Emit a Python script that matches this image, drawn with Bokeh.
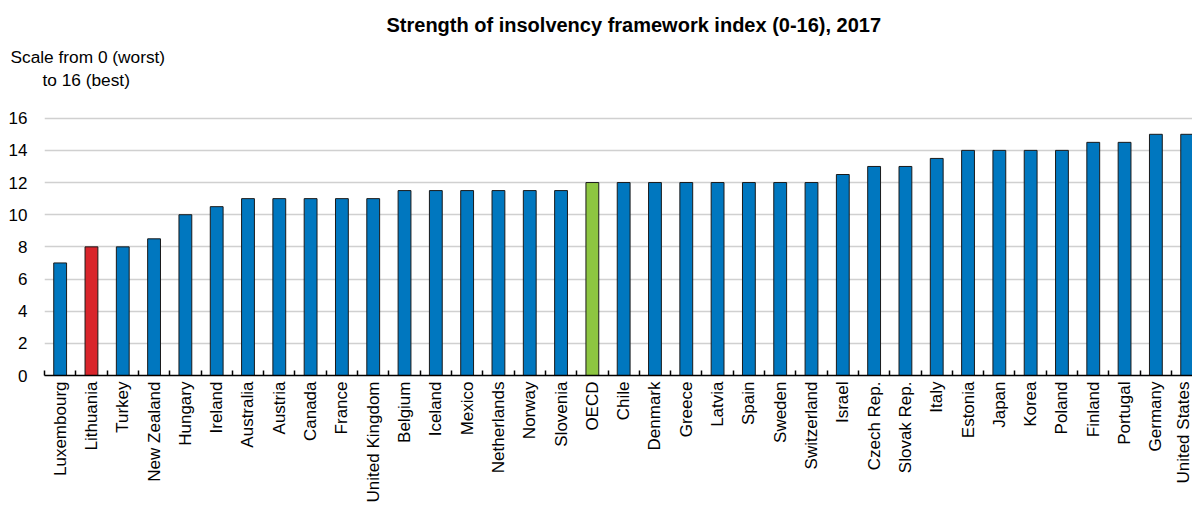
import math
from bokeh.plotting import figure
from bokeh.models import Range1d, FixedTicker, Title, LinearAxis
from bokeh.embed import file_html
from bokeh.resources import INLINE

countries = ["Luxembourg", "Lithuania", "Turkey", "New Zealand", "Hungary", "Ireland",
             "Australia", "Austria", "Canada", "France", "United Kingdom", "Belgium",
             "Iceland", "Mexico", "Netherlands", "Norway", "Slovenia", "OECD", "Chile",
             "Denmark", "Greece", "Latvia", "Spain", "Sweden", "Switzerland", "Israel",
             "Czech Rep.", "Slovak Rep.", "Italy", "Estonia", "Japan", "Korea", "Poland",
             "Finland", "Portugal", "Germany", "United States"]
values = [7, 8, 8, 8.5, 10, 10.5, 11, 11, 11, 11, 11, 11.5, 11.5, 11.5, 11.5, 11.5, 11.5,
          12, 12, 12, 12, 12, 12, 12, 12, 12.5, 13, 13, 13.5, 14, 14, 14, 14, 14.5, 14.5,
          15, 15]
y_ticks = [0, 2, 4, 6, 8, 10, 12, 14, 16]

BLUE = "#0077BF"
RED = "#D9252B"
GREEN = "#8DC641"
colors = [RED if c == "Lithuania" else GREEN if c == "OECD" else BLUE for c in countries]

FONT = "Liberation Sans"

n = len(countries)
idx = list(range(n))
bounds = [i - 0.5 for i in range(n + 1)]

p = figure(width=1192, height=505, output_backend="svg", toolbar_location=None,
           x_range=Range1d(-0.5, 36.17), y_range=Range1d(0, 17.6),
           min_border_left=44, min_border_right=0, min_border_top=92,
           min_border_bottom=129)
p.outline_line_color = None
p.background_fill_color = "white"
p.border_fill_color = "white"

p.vbar(x=idx, top=values, width=0.41, fill_color=colors,
       line_color="#1a1a1a", line_width=1)

# grid
p.xgrid.grid_line_color = None
p.ygrid.ticker = FixedTicker(ticks=y_ticks)
p.ygrid.grid_line_color = "#D0D0D0"
p.ygrid.grid_line_width = 1.6

# y axis
p.yaxis.ticker = FixedTicker(ticks=y_ticks)
p.yaxis.axis_line_color = None
p.yaxis.major_tick_line_color = None
p.yaxis.minor_tick_line_color = None
p.yaxis.major_tick_in = 0
p.yaxis.major_tick_out = 0
p.yaxis.minor_tick_out = 0
p.yaxis.major_label_standoff = 17
p.yaxis.major_label_text_font = FONT
p.yaxis.major_label_text_font_size = "17px"
p.yaxis.major_label_text_color = "black"

# x axis 1: axis line with inward ticks at category boundaries, labels not drawn
xa = p.xaxis[0]
xa.ticker = FixedTicker(ticks=bounds)
xa.axis_line_color = "black"
xa.axis_line_width = 1.5
xa.major_tick_in = 5
xa.major_tick_out = 0
xa.major_tick_line_color = "black"
xa.major_tick_line_width = 1.5
xa.minor_tick_line_color = None
xa.minor_tick_in = 0
xa.minor_tick_out = 0
xa.major_label_standoff = 0
xa.major_label_text_font_size = "0px"
xa.major_label_text_color = None

# x axis 2: category names at bar centres
xa2 = LinearAxis(ticker=FixedTicker(ticks=idx),
                 major_label_overrides={i: c for i, c in zip(idx, countries)},
                 major_label_orientation=math.pi / 2,
                 axis_line_color=None, major_tick_line_color=None,
                 minor_tick_line_color=None, major_tick_in=0, major_tick_out=0,
                 minor_tick_in=0, minor_tick_out=0, major_label_standoff=6,
                 major_label_text_font=FONT, major_label_text_font_size="17px",
                 major_label_text_color="black")
p.add_layout(xa2, "below")

# header texts (nearest to the plot first)
p.add_layout(Title(text="to 16 (best)", align="left", offset=-2, standoff=2.2,
                   vertical_align="top",
                   text_font=FONT, text_font_size="17.3px", text_font_style="normal",
                   text_color="black"), "above")
p.add_layout(Title(text="Scale from 0 (worst)", align="left", offset=-34, standoff=0,
                   vertical_align="top",
                   text_font=FONT, text_font_size="17.3px", text_font_style="normal",
                   text_color="black"), "above")
p.add_layout(Title(text="Strength of insolvency framework index (0-16), 2017",
                   align="left", offset=342, standoff=21, vertical_align="bottom",
                   text_font=FONT, text_font_size="20px", text_font_style="bold",
                   text_color="black"), "above")

open("out.html", "w").write(file_html(p, INLINE))
